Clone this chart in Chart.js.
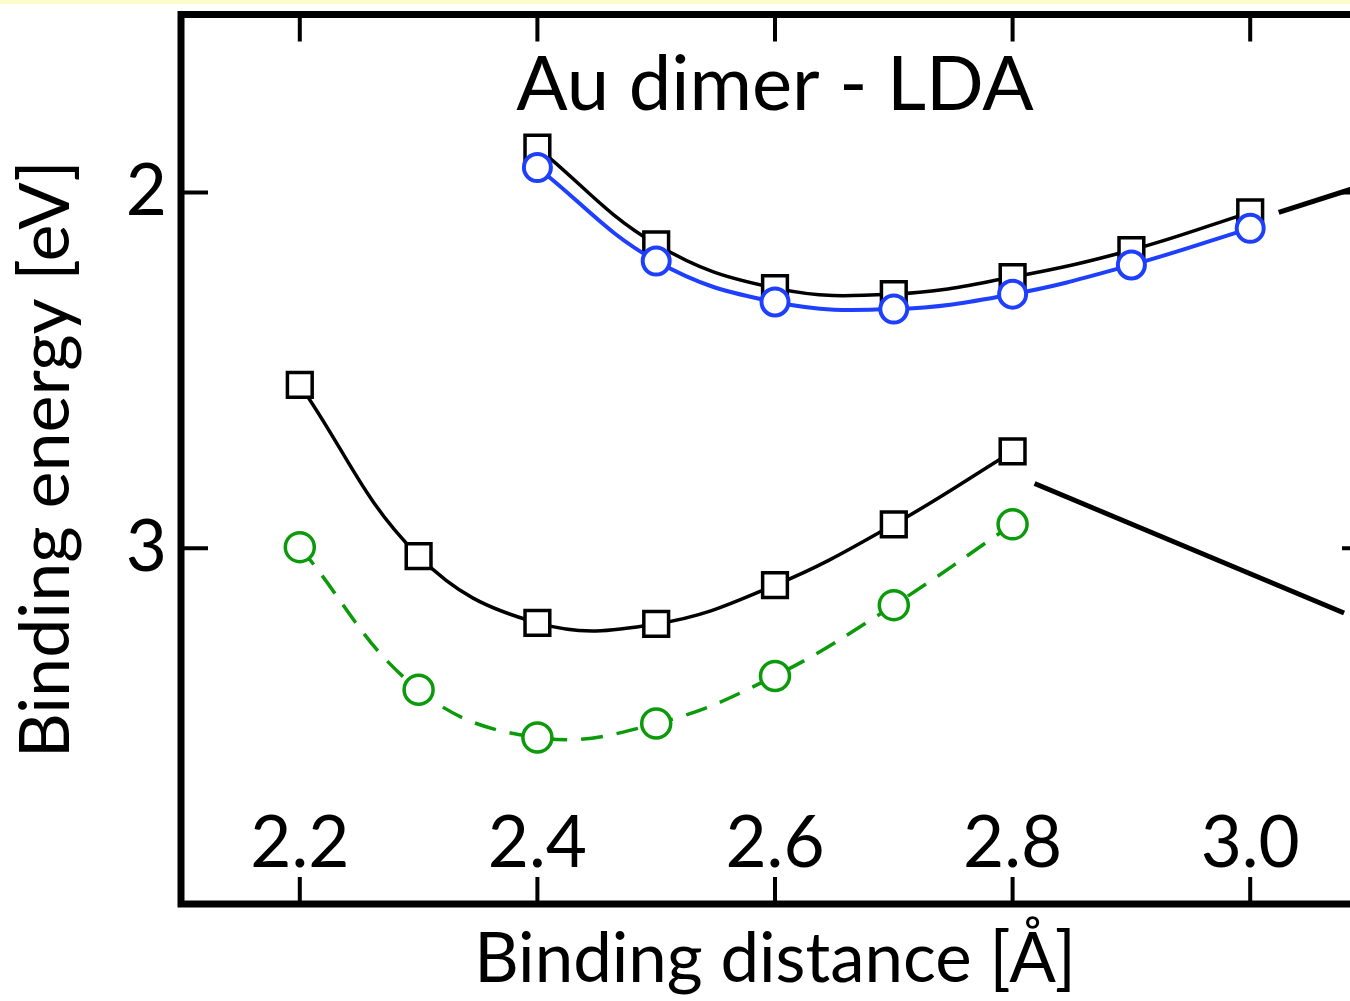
<!DOCTYPE html>
<html>
<head>
<meta charset="utf-8">
<title>Au dimer - LDA</title>
<script src="https://cdn.jsdelivr.net/npm/chart.js@4/dist/chart.umd.min.js"></script>
<style>
  html, body { margin: 0; padding: 0; overflow: hidden; background: #fff; }
  canvas { display: block; }
</style>
</head>
<body>
<canvas id="graph-area" width="1380" height="1001"></canvas>
<script>
// binding distances (Å) for each curve
const upperDistances = [2.4, 2.5, 2.6, 2.7, 2.8, 2.9, 3.0];
const lowerDistances = [2.2, 2.3, 2.4, 2.5, 2.6, 2.7, 2.8];

// binding energies (eV)
const upperBlack = [1.874, 2.146, 2.269, 2.286, 2.238, 2.162, 2.056];
const upperBlue = [1.930, 2.193, 2.308, 2.328, 2.286, 2.204, 2.101];
const lowerBlack = [2.541, 3.022, 3.210, 3.213, 3.104, 2.933, 2.728];
const lowerGreen = [2.997, 3.398, 3.532, 3.493, 3.359, 3.160, 2.933];

const xTicks = [2.2, 2.4, 2.6, 2.8, 3.0];
const yTicks = [2, 3];

// pointer lines running off to the right, in data units
const pointerUpper = [[3.024, 2.056], [3.1, 1.975]];
const pointerLower = [[2.8185, 2.818], [3.079, 3.182]];

const FONT = 'Lato';

function points(xs, ys) {
  return xs.map((x, i) => ({x, y: ys[i]}));
}

function pairs(list) {
  return list.map(([x, y]) => ({x, y}));
}

function curve(xs, ys, color, style, opts) {
  return Object.assign({
    data: points(xs, ys),
    borderColor: color,
    borderWidth: 3.5,
    pointStyle: style,
    pointRadius: style === 'rect' ? 17.5 : 13.5,
    pointBorderColor: color,
    pointBackgroundColor: '#fff',
    pointBorderWidth: 3.5,
    tension: 0.4,
    fill: false
  }, opts);
}

function pointer(list) {
  return {
    data: pairs(list),
    borderColor: '#000',
    borderWidth: 5,
    pointRadius: 0,
    tension: 0,
    fill: false,
    order: 5
  };
}

// no extra room for half labels at the scale ends
function noPadding(s) {
  s.paddingTop = 0;
  s.paddingBottom = 0;
  s.paddingLeft = 0;
  s.paddingRight = 0;
}

// frame with inward ticks, top strip and the in-plot title
const frame = {
  id: 'frame',
  beforeDraw(chart) {
    const {ctx, width} = chart;
    ctx.save();
    ctx.fillStyle = '#fefccd';
    ctx.fillRect(0, 0, width, 4);
    ctx.restore();
  },
  afterDatasetsDraw(chart) {
    const {ctx, chartArea: a, scales: {x, y}} = chart;
    const len = 27;
    ctx.save();
    ctx.strokeStyle = '#000';
    ctx.lineWidth = 4;
    ctx.beginPath();
    x.ticks.forEach(t => {
      const px = x.getPixelForValue(t.value);
      ctx.moveTo(px, a.top);
      ctx.lineTo(px, a.top + len);
      ctx.moveTo(px, a.bottom);
      ctx.lineTo(px, a.bottom - len);
    });
    y.ticks.forEach(t => {
      const py = y.getPixelForValue(t.value);
      ctx.moveTo(a.left, py);
      ctx.lineTo(a.left + len, py);
      ctx.moveTo(a.right, py);
      ctx.lineTo(a.right - len, py);
    });
    ctx.stroke();
    ctx.lineWidth = 7;
    ctx.strokeRect(a.left, a.top, a.right - a.left, a.bottom - a.top);

    ctx.fillStyle = '#000';
    ctx.font = `76px ${FONT}`;
    ctx.textAlign = 'center';
    ctx.textBaseline = 'alphabetic';
    ctx.fillText('Au dimer - LDA', (a.left + a.right) / 2, a.top + 95.5);
    ctx.restore();
  }
};

const context = document.querySelector('#graph-area').getContext('2d');

new Chart(context, {
  type: 'line',
  data: {
    datasets: [
      curve(upperDistances, upperBlue, '#1f3fff', 'circle', {borderWidth: 4, pointBorderWidth: 4, order: 0}),
      curve(upperDistances, upperBlack, '#000', 'rect', {order: 1}),
      curve(lowerDistances, lowerBlack, '#000', 'rect', {order: 2}),
      curve(lowerDistances, lowerGreen, '#0a9a0a', 'circle', {borderDash: [22, 14], pointRadius: 14.5, order: 3}),
      pointer(pointerUpper),
      pointer(pointerLower)
    ]
  },
  options: {
    responsive: false,
    animation: false,
    devicePixelRatio: 1,
    layout: {autoPadding: false, padding: {top: 14.5, right: 11, left: 0, bottom: 0}},
    plugins: {
      legend: {display: false},
      tooltip: {enabled: false}
    },
    scales: {
      x: {
        type: 'linear',
        min: 2.1,
        max: 3.1,
        afterBuildTicks: s => { s.ticks = xTicks.map(value => ({value})); },
        afterFit: s => { s.height = 97; noPadding(s); },
        grid: {display: false},
        border: {display: false},
        ticks: {
          color: '#000',
          font: {family: FONT, size: 71},
          padding: 17,
          mirror: true,
          maxRotation: 0,
          autoSkip: false,
          callback: v => v.toFixed(1)
        },
        title: {
          display: true,
          text: 'Binding distance [Å]',
          color: '#000',
          font: {family: FONT, size: 69},
          padding: {top: 0, bottom: 0}
        }
      },
      y: {
        type: 'linear',
        reverse: true,
        min: 1.5,
        max: 4.0,
        afterBuildTicks: s => { s.ticks = yTicks.map(value => ({value})); },
        afterFit: s => { s.width = 181; noPadding(s); },
        grid: {display: false},
        border: {display: false},
        ticks: {
          color: '#000',
          font: {family: FONT, size: 71},
          padding: 6,
          autoSkip: false,
          callback: v => String(v)
        },
        title: {
          display: true,
          text: 'Binding energy [eV]',
          color: '#000',
          font: {family: FONT, size: 70, lineHeight: 1.2},
          padding: {top: 4, bottom: 0}
        }
      }
    }
  },
  plugins: [frame]
});
</script>
</body>
</html>
